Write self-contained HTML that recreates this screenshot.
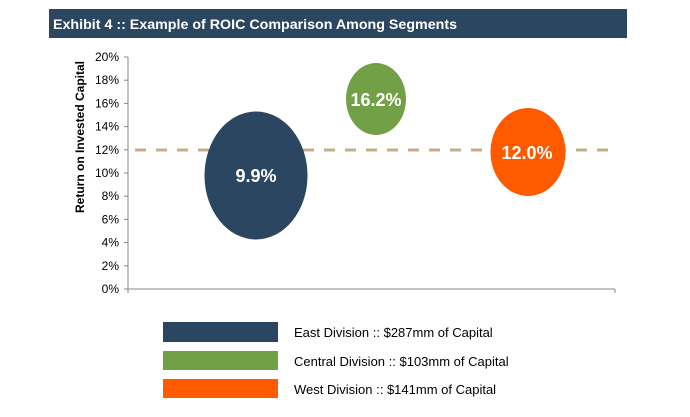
<!DOCTYPE html>
<html><head><meta charset="utf-8"><style>
body{margin:0;background:#fff;width:690px;height:412px;overflow:hidden;font-family:"Liberation Sans",Arial,sans-serif}
</style></head><body>
<svg width="690" height="412" xmlns="http://www.w3.org/2000/svg" font-family="Liberation Sans, Arial, sans-serif">
<rect x="49" y="9" width="578" height="29" fill="#2b4660"/>
<text x="53" y="29" font-size="14" font-weight="bold" fill="#fff" textLength="404" lengthAdjust="spacingAndGlyphs">Exhibit 4 :: Example of ROIC Comparison Among Segments</text>
<g stroke="#888" stroke-width="1">
<line x1="128" y1="57" x2="128" y2="289"/>
<line x1="128" y1="289" x2="615" y2="289"/>
<line x1="615" y1="289" x2="615" y2="293"/>
<line x1="128" y1="289" x2="128" y2="293"/>
<line x1="124" y1="57" x2="128" y2="57"/><line x1="124" y1="80.2" x2="128" y2="80.2"/><line x1="124" y1="103.4" x2="128" y2="103.4"/><line x1="124" y1="126.6" x2="128" y2="126.6"/><line x1="124" y1="149.8" x2="128" y2="149.8"/><line x1="124" y1="173" x2="128" y2="173"/><line x1="124" y1="196.2" x2="128" y2="196.2"/><line x1="124" y1="219.4" x2="128" y2="219.4"/><line x1="124" y1="242.6" x2="128" y2="242.6"/><line x1="124" y1="265.8" x2="128" y2="265.8"/><line x1="124" y1="289" x2="128" y2="289"/>
</g>
<g font-size="12" fill="#000" text-anchor="end">
<text x="119" y="61">20%</text><text x="119" y="84.2">18%</text><text x="119" y="107.4">16%</text><text x="119" y="130.6">14%</text><text x="119" y="153.8">12%</text><text x="119" y="177">10%</text><text x="119" y="200.2">8%</text><text x="119" y="223.4">6%</text><text x="119" y="246.6">4%</text><text x="119" y="269.8">2%</text><text x="119" y="293">0%</text>
</g>
<text transform="translate(84,137) rotate(-90)" font-size="12" font-weight="bold" text-anchor="middle">Return on Invested Capital</text>
<line x1="135" y1="150" x2="612" y2="150" stroke="#c4ad8b" stroke-width="3" stroke-dasharray="11,10"/>
<ellipse cx="256" cy="175.5" rx="51.5" ry="64" fill="#2b4660"/>
<text x="256" y="182" font-size="18" font-weight="bold" fill="#fff" text-anchor="middle">9.9%</text>
<ellipse cx="376" cy="99" rx="30" ry="36" fill="#72a046"/>
<text x="376" y="106" font-size="18" font-weight="bold" fill="#fff" text-anchor="middle">16.2%</text>
<ellipse cx="528" cy="152" rx="37.5" ry="44" fill="#ff5a00"/>
<text x="527" y="159" font-size="18" font-weight="bold" fill="#fff" text-anchor="middle">12.0%</text>
<rect x="163" y="322" width="115" height="20" fill="#2b4660"/>
<rect x="163" y="351" width="115" height="19" fill="#72a046"/>
<rect x="163" y="379" width="115" height="19" fill="#ff5a00"/>
<g font-size="13" fill="#000">
<text x="294" y="337">East Division :: $287mm of Capital</text>
<text x="294" y="366">Central Division :: $103mm of Capital</text>
<text x="294" y="394">West Division :: $141mm of Capital</text>
</g>
</svg>
</body></html>
